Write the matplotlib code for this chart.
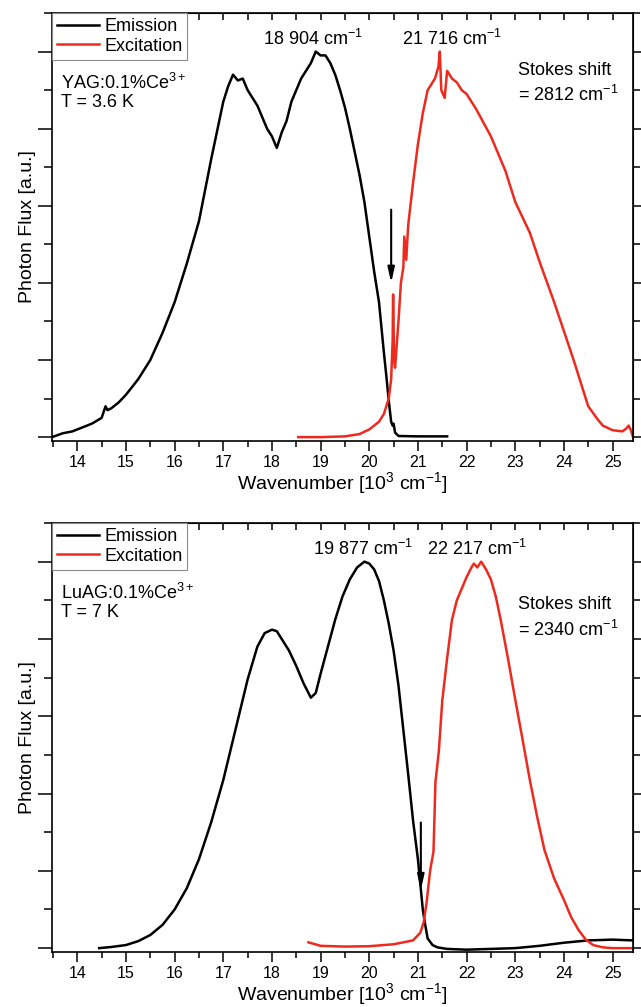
import numpy as np
import matplotlib
matplotlib.use("Agg")
import matplotlib.pyplot as plt
from matplotlib.ticker import MultipleLocator, NullFormatter

plt.rcParams['font.family'] = ['Liberation Sans', 'DejaVu Sans']
plt.rcParams['mathtext.fontset'] = 'custom'
plt.rcParams['mathtext.rm'] = 'Liberation Sans'
plt.rcParams['mathtext.it'] = 'Liberation Sans:italic'
plt.rcParams['mathtext.default'] = 'regular'

# -------------------------------
# DATA (10^3 cm^-1 vs normalised flux)
# -------------------------------

yag_em_x = [13.48, 13.7, 13.9, 14.1, 14.3, 14.5, 14.58, 14.62, 14.7, 14.85, 15.0, 15.25,
            15.5, 15.75, 16.0, 16.25, 16.5, 16.75, 17.0, 17.1, 17.2, 17.3, 17.4, 17.5,
            17.6, 17.7, 17.8, 17.9, 18.0, 18.1, 18.2, 18.3, 18.4, 18.5, 18.6, 18.7,
            18.8, 18.9, 19.0, 19.1, 19.2, 19.3, 19.4, 19.5, 19.6, 19.7, 19.8, 19.9,
            20.0, 20.1, 20.2, 20.3, 20.35, 20.4, 20.45, 20.48, 20.5, 20.53, 20.6, 21.0, 21.6]
yag_em_y = [0.0, 0.01, 0.015, 0.025, 0.035, 0.05, 0.08, 0.07, 0.075, 0.09, 0.11, 0.15,
            0.2, 0.27, 0.35, 0.45, 0.56, 0.72, 0.87, 0.91, 0.94, 0.925, 0.93, 0.9,
            0.88, 0.86, 0.83, 0.80, 0.78, 0.75, 0.79, 0.82, 0.87, 0.9, 0.93, 0.95,
            0.97, 1.0, 0.99, 0.99, 0.97, 0.94, 0.9, 0.855, 0.8, 0.74, 0.68, 0.61,
            0.52, 0.43, 0.35, 0.22, 0.16, 0.095, 0.04, 0.03, 0.035, 0.012, 0.003, 0.002, 0.002]

yag_ex_x = [18.54, 19.0, 19.5, 19.8, 20.0, 20.2, 20.3, 20.4, 20.45, 20.48, 20.49, 20.51,
            20.53, 20.6, 20.65, 20.7, 20.72, 20.76, 20.8, 20.9, 21.0, 21.1, 21.2, 21.3,
            21.35, 21.42, 21.45, 21.48, 21.55, 21.6, 21.65, 21.7, 21.8, 21.9, 22.0, 22.2,
            22.5, 22.8, 23.0, 23.3, 23.5, 23.8, 24.0, 24.2, 24.3, 24.5, 24.7, 24.8,
            25.0, 25.2, 25.28, 25.33, 25.37, 25.42]
yag_ex_y = [0.0, 0.0, 0.002, 0.008, 0.02, 0.04, 0.06, 0.1, 0.15, 0.25, 0.37, 0.2,
            0.18, 0.3, 0.4, 0.44, 0.52, 0.46, 0.55, 0.66, 0.76, 0.84, 0.9, 0.92,
            0.93, 0.96, 1.0, 0.9, 0.88, 0.95, 0.94, 0.93, 0.92, 0.9, 0.89, 0.85,
            0.78, 0.69, 0.61, 0.53, 0.455, 0.35, 0.275, 0.2, 0.16, 0.08, 0.045, 0.03,
            0.018, 0.015, 0.022, 0.03, 0.02, 0.0]

luag_em_x = [14.45, 14.7, 15.0, 15.25, 15.5, 15.75, 16.0, 16.25, 16.5, 16.75, 17.0, 17.25,
             17.5, 17.7, 17.85, 18.0, 18.1, 18.2, 18.35, 18.5, 18.65, 18.8, 18.9, 19.0,
             19.15, 19.3, 19.45, 19.6, 19.75, 19.9, 20.0, 20.1, 20.2, 20.3, 20.4, 20.5,
             20.6, 20.7, 20.8, 20.9, 21.0, 21.1, 21.15, 21.2, 21.3, 21.4, 21.6, 22.0,
             22.5, 23.0, 23.5, 24.0, 24.5, 25.0, 25.42]
luag_em_y = [0.0, 0.003, 0.008, 0.018, 0.034, 0.06, 0.1, 0.155, 0.23, 0.325, 0.435, 0.565,
             0.695, 0.78, 0.815, 0.824, 0.82, 0.8, 0.77, 0.73, 0.685, 0.648, 0.66, 0.71,
             0.78, 0.85, 0.91, 0.954, 0.985, 1.0, 0.995, 0.98, 0.95, 0.9, 0.84, 0.77,
             0.68, 0.565, 0.45, 0.33, 0.23, 0.1, 0.06, 0.025, 0.008, 0.002, -0.002, -0.004,
             -0.002, 0.0, 0.006, 0.014, 0.02, 0.022, 0.02]

luag_ex_x = [18.75, 19.0, 19.5, 20.0, 20.5, 20.9, 21.05, 21.12, 21.18, 21.25, 21.32, 21.36,
             21.43, 21.5, 21.6, 21.7, 21.8, 21.9, 22.0, 22.1, 22.15, 22.22, 22.3, 22.4,
             22.5, 22.6, 22.7, 22.85, 23.0, 23.15, 23.3, 23.45, 23.6, 23.8, 24.0, 24.15,
             24.3, 24.45, 24.6, 24.8, 25.0, 25.42]
luag_ex_y = [0.015, 0.006, 0.004, 0.005, 0.01, 0.02, 0.04, 0.068, 0.12, 0.2, 0.25, 0.43,
             0.51, 0.64, 0.75, 0.85, 0.9, 0.93, 0.96, 0.985, 0.995, 0.985, 1.0, 0.98,
             0.954, 0.91, 0.85, 0.75, 0.643, 0.54, 0.435, 0.34, 0.254, 0.18, 0.125, 0.08,
             0.047, 0.022, 0.008, 0.002, 0.0, 0.0]

PANELS = [
    dict(em=(yag_em_x, yag_em_y), ex=(yag_ex_x, yag_ex_y),
         sample="YAG:0.1%Ce$^{3+}$", temp="T = 3.6 K", info_y=(0.836, 0.792),
         peaks=[("18 904 cm$^{-1}$", 18.85), ("21 716 cm$^{-1}$", 21.7)],
         shift="= 2812 cm$^{-1}$", shift_y=(0.866, 0.808), arrow=(20.45, 0.59, 0.40)),
    dict(em=(luag_em_x, luag_em_y), ex=(luag_ex_x, luag_ex_y),
         sample="LuAG:0.1%Ce$^{3+}$", temp="T = 7 K", info_y=(0.837, 0.792),
         peaks=[("19 877 cm$^{-1}$", 19.88), ("22 217 cm$^{-1}$", 22.22)],
         shift="= 2340 cm$^{-1}$", shift_y=(0.809, 0.75), arrow=(21.06, 0.325, 0.15)),
]

# -------------------------------
# PLOT
# -------------------------------

W, H = 641, 1007
fig = plt.figure(figsize=(W / 100, H / 100), dpi=100)

boxes = [(52, 13, 633, 441), (52, 523, 633, 952)]
FS = 13

for box, p in zip(boxes, PANELS):
    l, t, r, b = box
    ax = fig.add_axes([l / W, 1 - b / H, (r - l) / W, (b - t) / H])
    ax.plot(*p["em"], color="black", lw=1.8, label="Emission")
    ax.plot(*p["ex"], color="#ee2a1e", lw=1.8, label="Excitation")

    ax.set_xlim(13.48, 25.42)
    ax.set_ylim(-0.01, 1.1)
    ax.xaxis.set_major_locator(MultipleLocator(1))
    ax.xaxis.set_minor_locator(MultipleLocator(0.5))
    ax.yaxis.set_major_locator(MultipleLocator(0.2))
    ax.yaxis.set_minor_locator(MultipleLocator(0.1))
    ax.yaxis.set_major_formatter(NullFormatter())
    ax.tick_params(axis="x", which="major", direction="out", length=7, width=1.1,
                   labelsize=11.5, pad=3)
    ax.tick_params(axis="x", which="minor", direction="out", length=4, width=1.1)
    ax.tick_params(axis="y", which="major", direction="out", length=10, width=1.1)
    ax.tick_params(axis="y", which="minor", direction="out", length=6, width=1.1)
    for s in ax.spines.values():
        s.set_linewidth(1.2)

    top = ax.secondary_xaxis("top")
    top.xaxis.set_major_locator(MultipleLocator(1))
    top.xaxis.set_minor_locator(MultipleLocator(0.5))
    top.xaxis.set_major_formatter(NullFormatter())
    top.tick_params(which="both", direction="in", length=5, width=1.1)
    right = ax.secondary_yaxis("right")
    right.yaxis.set_major_locator(MultipleLocator(0.2))
    right.yaxis.set_minor_locator(MultipleLocator(0.1))
    right.yaxis.set_major_formatter(NullFormatter())
    right.tick_params(which="major", direction="out", length=8, width=1.1)
    right.tick_params(which="minor", direction="out", length=5, width=1.1)

    ax.set_xlabel("Wavenumber [10$^{3}$ cm$^{-1}$]", fontsize=14, labelpad=0)
    ax.set_ylabel("Photon Flux [a.u.]", fontsize=14)
    ax.yaxis.set_label_coords(-0.027, 0.5)

    leg = ax.legend(loc="upper left", bbox_to_anchor=(0, 1), borderaxespad=0,
                    fontsize=FS, handlelength=2.3, handletextpad=0.3,
                    labelspacing=0.15, borderpad=0.28, fancybox=False, framealpha=1)
    leg.get_frame().set_edgecolor("#8a8a8a")
    leg.get_frame().set_linewidth(0.8)

    ax.text(0.015, p["info_y"][0], p["sample"], transform=ax.transAxes, fontsize=FS, va="center")
    ax.text(0.015, p["info_y"][1], p["temp"], transform=ax.transAxes, fontsize=FS, va="center")
    for txt, xv in p["peaks"]:
        ax.text(xv, 0.94, txt, transform=ax.get_xaxis_transform(), fontsize=FS,
                ha="center", va="center")
    ax.text(0.802, p["shift_y"][0], "Stokes shift", transform=ax.transAxes, fontsize=FS, va="center")
    ax.text(0.802, p["shift_y"][1], p["shift"], transform=ax.transAxes, fontsize=FS, va="center")

    xa, y0, y1 = p["arrow"]
    ax.annotate("", xy=(xa, y1), xytext=(xa, y0),
                arrowprops=dict(arrowstyle="-|>,head_width=0.2,head_length=0.9",
                                color="black", lw=1.5, shrinkA=0, shrinkB=0))

fig.savefig("out.png", dpi=100, facecolor="white")
